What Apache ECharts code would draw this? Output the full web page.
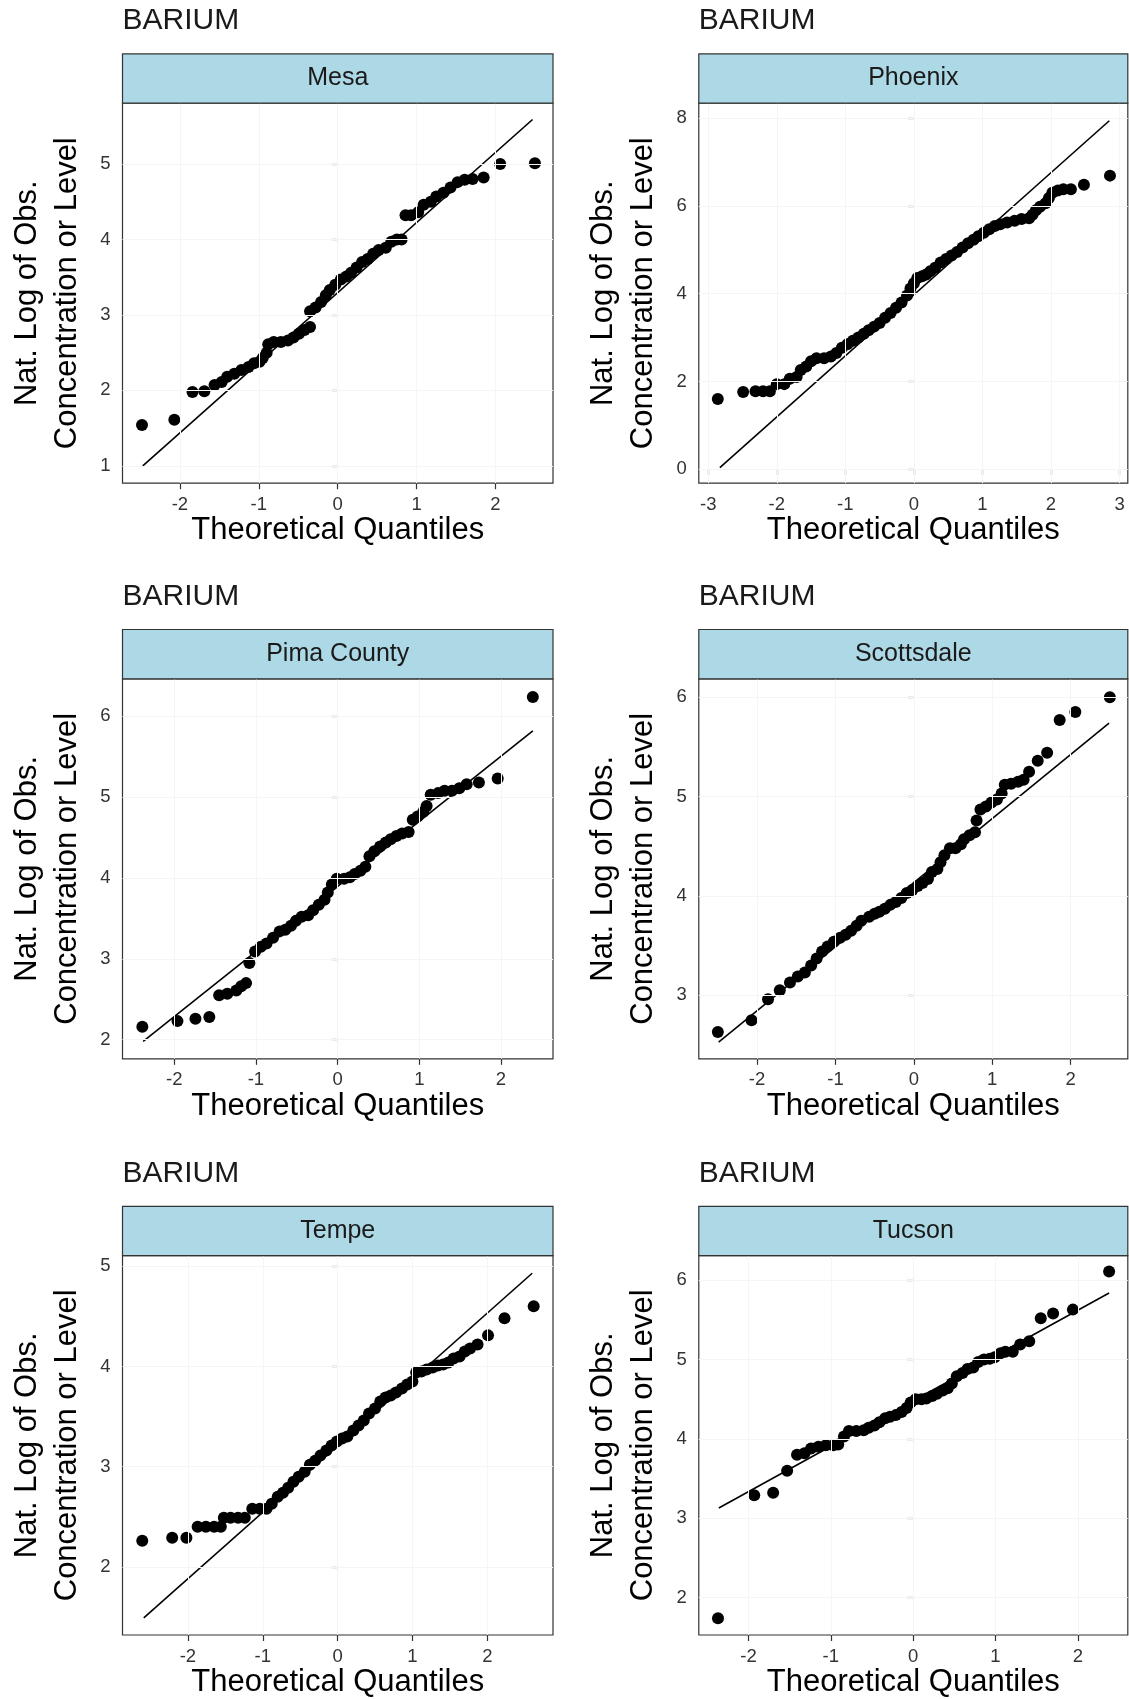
<!DOCTYPE html>
<html>
<head>
<meta charset="utf-8">
<title>BARIUM normal Q-Q plots by site</title>
<script src="https://cdn.jsdelivr.net/npm/echarts@6/dist/echarts.min.js"></script>
<style>
  html, body { margin: 0; padding: 0; background: #ffffff; }
  #chart { width: 1129px; height: 1699px; }
</style>
</head>
<body>
<div id="chart"></div>
<script>
// ---- Data: [theoretical quantile, natural log of observed concentration] ----
const mesaPts = [[-2.48,1.54],[-2.07,1.61],[-1.84,1.98],[-1.69,1.99],[-1.56,2.07],[-1.47,2.11],[-1.40,2.18],[-1.31,2.22],[-1.22,2.27],[-1.13,2.31],[-1.06,2.36],[-0.99,2.38],[-0.95,2.43],[-0.90,2.50],[-0.88,2.61],[-0.81,2.64],[-0.72,2.64],[-0.63,2.66],[-0.56,2.70],[-0.49,2.75],[-0.42,2.80],[-0.35,2.84],[-0.35,3.05],[-0.28,3.10],[-0.21,3.17],[-0.15,3.26],[-0.10,3.33],[-0.03,3.40],[0.04,3.47],[0.11,3.51],[0.17,3.56],[0.24,3.63],[0.31,3.70],[0.38,3.74],[0.45,3.81],[0.52,3.86],[0.61,3.89],[0.68,3.97],[0.75,4.00],[0.81,4.00],[0.86,4.32],[0.93,4.32],[1.02,4.36],[1.09,4.46],[1.18,4.50],[1.25,4.57],[1.34,4.62],[1.43,4.69],[1.52,4.76],[1.61,4.79],[1.71,4.80],[1.85,4.82],[2.06,5.00],[2.50,5.01]];
const phoenixPts = [[-2.86,1.60],[-2.49,1.76],[-2.31,1.78],[-2.20,1.78],[-2.10,1.78],[-2.00,1.94],[-1.89,1.94],[-1.81,2.06],[-1.71,2.10],[-1.65,2.26],[-1.57,2.34],[-1.50,2.46],[-1.42,2.53],[-1.31,2.53],[-1.21,2.57],[-1.13,2.65],[-1.05,2.77],[-0.97,2.85],[-0.89,2.93],[-0.81,3.00],[-0.73,3.09],[-0.66,3.17],[-0.58,3.25],[-0.50,3.33],[-0.42,3.45],[-0.34,3.56],[-0.26,3.68],[-0.18,3.80],[-0.10,3.96],[-0.05,4.12],[0.00,4.24],[0.05,4.36],[0.12,4.40],[0.18,4.44],[0.24,4.51],[0.31,4.59],[0.39,4.71],[0.47,4.79],[0.55,4.87],[0.63,4.95],[0.71,5.05],[0.79,5.15],[0.87,5.23],[0.94,5.31],[1.02,5.39],[1.10,5.47],[1.18,5.54],[1.26,5.58],[1.36,5.62],[1.47,5.66],[1.57,5.70],[1.68,5.72],[1.73,5.80],[1.78,5.90],[1.84,5.98],[1.92,6.06],[1.97,6.18],[2.02,6.30],[2.10,6.35],[2.18,6.38],[2.29,6.38],[2.48,6.48],[2.86,6.69]];
const pimaPts = [[-2.39,2.16],[-1.96,2.23],[-1.74,2.26],[-1.57,2.28],[-1.45,2.55],[-1.35,2.57],[-1.24,2.61],[-1.18,2.66],[-1.12,2.70],[-1.08,2.95],[-1.01,3.09],[-0.94,3.15],[-0.87,3.19],[-0.79,3.26],[-0.71,3.34],[-0.64,3.36],[-0.57,3.41],[-0.51,3.47],[-0.44,3.52],[-0.36,3.54],[-0.30,3.60],[-0.23,3.67],[-0.16,3.73],[-0.12,3.82],[-0.07,3.92],[-0.01,3.99],[0.08,3.99],[0.15,4.01],[0.21,4.05],[0.28,4.09],[0.34,4.14],[0.39,4.27],[0.45,4.33],[0.52,4.39],[0.59,4.44],[0.65,4.48],[0.72,4.52],[0.79,4.55],[0.87,4.57],[0.92,4.72],[0.98,4.76],[1.05,4.82],[1.09,4.89],[1.14,5.03],[1.23,5.05],[1.31,5.08],[1.40,5.08],[1.49,5.11],[1.58,5.16],[1.73,5.18],[1.96,5.23],[2.39,6.24]];
const scottsdalePts = [[-2.50,2.63],[-2.07,2.75],[-1.86,2.96],[-1.71,3.05],[-1.58,3.13],[-1.48,3.19],[-1.39,3.23],[-1.31,3.30],[-1.24,3.37],[-1.17,3.44],[-1.10,3.49],[-1.02,3.54],[-0.94,3.58],[-0.87,3.61],[-0.80,3.65],[-0.73,3.70],[-0.67,3.75],[-0.57,3.79],[-0.50,3.82],[-0.44,3.84],[-0.37,3.87],[-0.30,3.91],[-0.23,3.94],[-0.16,3.98],[-0.09,4.03],[-0.02,4.06],[0.05,4.10],[0.11,4.13],[0.18,4.17],[0.23,4.24],[0.30,4.27],[0.34,4.34],[0.39,4.41],[0.46,4.48],[0.53,4.48],[0.60,4.52],[0.64,4.57],[0.71,4.61],[0.78,4.64],[0.80,4.76],[0.85,4.87],[0.92,4.90],[0.99,4.94],[1.06,4.97],[1.12,5.03],[1.16,5.12],[1.24,5.13],[1.33,5.15],[1.40,5.17],[1.47,5.25],[1.58,5.36],[1.70,5.44],[1.86,5.77],[2.06,5.85],[2.50,6.00]];
const tempePts = [[-2.61,2.26],[-2.21,2.29],[-2.02,2.29],[-1.87,2.40],[-1.76,2.40],[-1.65,2.40],[-1.56,2.40],[-1.52,2.49],[-1.43,2.49],[-1.33,2.49],[-1.24,2.49],[-1.14,2.58],[-1.04,2.58],[-0.95,2.58],[-0.88,2.63],[-0.80,2.70],[-0.73,2.74],[-0.66,2.79],[-0.59,2.85],[-0.52,2.90],[-0.44,2.95],[-0.37,3.02],[-0.30,3.06],[-0.23,3.11],[-0.15,3.16],[-0.08,3.21],[-0.01,3.25],[0.06,3.28],[0.13,3.30],[0.21,3.36],[0.28,3.41],[0.35,3.46],[0.42,3.53],[0.50,3.58],[0.57,3.65],[0.64,3.69],[0.71,3.71],[0.78,3.74],[0.86,3.78],[0.93,3.82],[1.00,3.85],[1.05,3.94],[1.12,3.95],[1.19,3.97],[1.27,3.99],[1.34,4.01],[1.41,4.02],[1.48,4.04],[1.55,4.08],[1.63,4.10],[1.70,4.15],[1.77,4.18],[1.87,4.22],[2.01,4.31],[2.23,4.48],[2.62,4.60]];
const tucsonPts = [[-2.37,1.74],[-1.93,3.29],[-1.70,3.32],[-1.53,3.60],[-1.41,3.80],[-1.32,3.82],[-1.24,3.88],[-1.15,3.90],[-1.06,3.92],[-0.97,3.92],[-0.91,3.93],[-0.84,4.03],[-0.78,4.10],[-0.69,4.10],[-0.60,4.11],[-0.54,4.14],[-0.47,4.17],[-0.41,4.21],[-0.34,4.26],[-0.28,4.28],[-0.21,4.30],[-0.14,4.34],[-0.08,4.39],[-0.03,4.46],[0.03,4.50],[0.10,4.50],[0.16,4.51],[0.23,4.54],[0.29,4.57],[0.36,4.61],[0.42,4.64],[0.47,4.70],[0.53,4.79],[0.60,4.83],[0.66,4.88],[0.73,4.90],[0.79,4.97],[0.86,5.00],[0.93,5.01],[0.99,5.03],[1.06,5.08],[1.12,5.10],[1.21,5.10],[1.30,5.19],[1.41,5.23],[1.55,5.52],[1.70,5.58],[1.94,5.63],[2.38,6.11]];

// Reference (Q-Q) line end points per site
const mesaLine = [[-2.47,1.00],[2.47,5.59]];
const phoenixLine = [[-2.83,0.04],[2.85,7.94]];
const pimaLine = [[-2.38,1.98],[2.39,5.82]];
const scottsdaleLine = [[-2.49,2.53],[2.49,5.74]];
const tempeLine = [[-2.59,1.49],[2.60,4.93]];
const tucsonLine = [[-2.36,3.13],[2.38,5.84]];

// Facet labels, analyte title and axis tick values
const analyte = 'BARIUM';
const siteNames = ['Mesa', 'Phoenix', 'Pima County', 'Scottsdale', 'Tempe', 'Tucson'];
const xTicks = [[-2,-1,0,1,2], [-3,-2,-1,0,1,2,3], [-2,-1,0,1,2], [-2,-1,0,1,2], [-2,-1,0,1,2], [-2,-1,0,1,2]];
const yTicks = [[1,2,3,4,5], [0,2,4,6,8], [2,3,4,5,6], [3,4,5,6], [2,3,4,5], [2,3,4,5,6]];
const xTitle = 'Theoretical Quantiles';
const yTitle = 'Nat. Log of Obs.\nConcentration or Level';

const sitePoints = [mesaPts, phoenixPts, pimaPts, scottsdalePts, tempePts, tucsonPts];
const siteLines = [mesaLine, phoenixLine, pimaLine, scottsdaleLine, tempeLine, tucsonLine];

// ---- Layout ----
const FONT = "'Liberation Sans', Arial, Helvetica, sans-serif";
const colLeft = [122.5, 698.8];
const colWidth = [430.5, 429];
const rowTop = [103.2, 678.8, 1255.6];
const plotH = 380;
const stripH = 49.3;
// axis extents (ggplot-style padding around the data)
const xExtent = [[-2.727,2.729], [-3.137,3.12], [-2.633,2.637], [-2.743,2.729], [-2.874,2.878], [-2.603,2.607]];
const yExtent = [[0.77,5.806], [-0.317,8.34], [1.764,6.464], [2.361,6.185], [1.32,5.106], [1.528,6.311]];

const grids = [], xAxes = [], yAxes = [], series = [], graphics = [];

siteNames.forEach((name, i) => {
  const col = i % 2, row = Math.floor(i / 2);
  const left = colLeft[col], width = colWidth[col], top = rowTop[row];

  grids.push({
    left: left, top: top, width: width, height: plotH,
    show: true, backgroundColor: '#ffffff', borderColor: '#333333', borderWidth: 1.2,
    containLabel: false
  });

  xAxes.push({
    type: 'value', gridIndex: i,
    min: xExtent[i][0], max: xExtent[i][1],
    axisLine: { show: false },
    axisTick: { show: true, length: 6, customValues: xTicks[i], lineStyle: { color: '#333333', width: 1.2 } },
    axisLabel: { show: true, customValues: xTicks[i], margin: 12, fontSize: 18.5, color: '#333333', fontFamily: FONT },
    splitLine: { show: false },
    name: xTitle, nameLocation: 'middle', nameGap: 32,
    nameTextStyle: { fontSize: 31, color: '#000000', fontFamily: FONT }
  });

  yAxes.push({
    type: 'value', gridIndex: i,
    min: yExtent[i][0], max: yExtent[i][1],
    axisLine: { show: false },
    axisTick: { show: true, length: 6, customValues: yTicks[i], lineStyle: { color: '#333333', width: 1.2 } },
    axisLabel: { show: true, customValues: yTicks[i], margin: 12, fontSize: 18.5, color: '#333333', fontFamily: FONT },
    splitLine: { show: false },
    name: yTitle, nameLocation: 'middle', nameGap: 35, nameRotate: 90,
    nameTextStyle: { fontSize: 31, lineHeight: 40, color: '#000000', fontFamily: FONT, align: 'center' }
  });

  // faint major grid
  series.push({
    type: 'line', xAxisIndex: i, yAxisIndex: i, data: [], z: 1, silent: true,
    markLine: {
      silent: true, symbol: ['none', 'none'], animation: false,
      label: { show: false },
      lineStyle: { color: '#f5f5f5', width: 1, type: 'solid' },
      data: yTicks[i].map(v => ({ yAxis: v })).concat(xTicks[i].map(v => ({ xAxis: v })))
    }
  });

  // Q-Q reference line
  series.push({
    type: 'line', xAxisIndex: i, yAxisIndex: i, data: siteLines[i],
    symbol: 'none', z: 2, silent: true,
    lineStyle: { color: '#000000', width: 1.6 }
  });

  // sample quantiles
  series.push({
    type: 'scatter', xAxisIndex: i, yAxisIndex: i, data: sitePoints[i],
    symbol: 'circle', symbolSize: 12, z: 3, silent: true,
    itemStyle: { color: '#000000', opacity: 1 }
  });

  // facet strip
  graphics.push({
    type: 'rect', z: 100,
    shape: { x: left, y: top - stripH, width: width, height: stripH },
    style: { fill: '#ADD8E6', stroke: '#333333', lineWidth: 1.2 }
  });
  graphics.push({
    type: 'text', z: 101,
    x: left + width / 2, y: top - stripH / 2,
    style: { text: name, fontSize: 25, fill: '#1a1a1a', fontFamily: FONT, textAlign: 'center', textVerticalAlign: 'middle' }
  });
  // analyte title
  graphics.push({
    type: 'text', z: 101,
    x: left, y: top - 82.3,
    style: { text: analyte, fontSize: 30, fill: '#1a1a1a', fontFamily: FONT, textAlign: 'left', textVerticalAlign: 'middle' }
  });
});

const chart = echarts.init(document.getElementById('chart'), null, { renderer: 'canvas', width: 1129, height: 1699 });
chart.setOption({
  backgroundColor: '#ffffff',
  animation: false,
  grid: grids,
  xAxis: xAxes,
  yAxis: yAxes,
  series: series,
  graphic: graphics
});
</script>
</body>
</html>
